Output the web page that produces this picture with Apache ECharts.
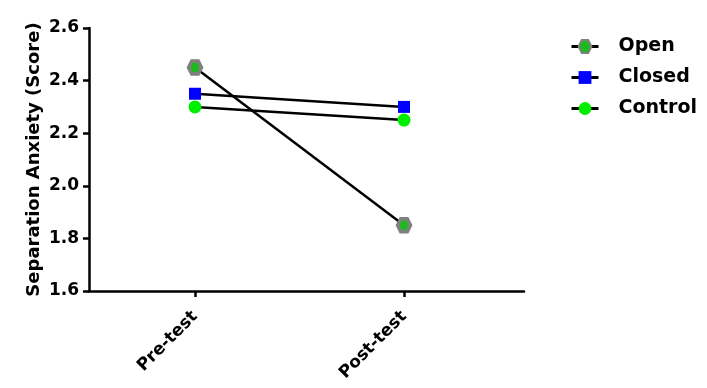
<!DOCTYPE html>
<html><head><meta charset="utf-8">
<script src="https://cdn.jsdelivr.net/npm/echarts@6/dist/echarts.min.js"></script>
<style>html,body{margin:0;padding:0;background:#fff}#c{width:707px;height:388px}</style>
</head><body><div id="c"></div>
<script>
const categories = ['Pre-test', 'Post-test'];
const openVals = [2.45, 1.85];
const closedVals = [2.35, 2.30];
const controlVals = [2.30, 2.25];
const yTicks = [1.6, 1.8, 2.0, 2.2, 2.4, 2.6];

const FONT = '"DejaVu Sans", sans-serif';
const hex = 'path://M0,5 L2.5,0.67 L7.5,0.67 L10,5 L7.5,9.33 L2.5,9.33 Z';
const toPts = vals => vals.map((v, i) => [i, v]);

const chart = echarts.init(document.getElementById('c'));
chart.setOption({
  animation: false,
  backgroundColor: '#fff',
  grid: { left: 89, right: 183, top: 28, bottom: 97, containLabel: false },
  legend: {
    orient: 'vertical', left: 565, top: 31, itemGap: 10, itemWidth: 27, itemHeight: 16,
    lineStyle: { width: 3, color: '#000' },
    textStyle: { fontFamily: FONT, fontWeight: 'bold', fontSize: 19, color: '#000', lineHeight: 21, padding: [0, 0, 0, 15] },
    data: ['Open', 'Closed', 'Control']
  },
  xAxis: {
    type: 'value', min: -0.507, max: 1.574,
    splitLine: { show: false },
    axisLine: { show: true, onZero: false, lineStyle: { color: '#000', width: 2.5 } },
    axisTick: { show: true, length: 6, lineStyle: { color: '#000', width: 2.5 }, customValues: [0, 1] },
    axisLabel: {
      customValues: [0, 1], rotate: 45, margin: 23,
      formatter: v => categories[Math.round(v)] || '',
      fontFamily: FONT, fontWeight: 'bold', fontSize: 17, color: '#000'
    }
  },
  yAxis: {
    type: 'value', min: yTicks[0], max: yTicks[yTicks.length - 1], interval: 0.2,
    name: 'Separation Anxiety (Score)', nameLocation: 'middle', nameGap: 46, nameMoveOverlap: false,
    nameTextStyle: { fontFamily: FONT, fontWeight: 'bold', fontSize: 18, color: '#000' },
    splitLine: { show: false },
    axisLine: { show: true, onZero: false, lineStyle: { color: '#000', width: 2.5 } },
    axisTick: { show: true, length: 6, lineStyle: { color: '#000', width: 2.5 } },
    axisLabel: { formatter: v => v.toFixed(1), margin: 10, fontFamily: FONT, fontWeight: 'bold', fontSize: 17, color: '#000' }
  },
  series: [
    { name: 'Open', type: 'line', data: toPts(openVals), symbol: hex, symbolSize: 13,
      lineStyle: { color: '#000', width: 2.5 },
      itemStyle: { color: '#1fb81f', borderColor: '#808080', borderWidth: 3.5 } },
    { name: 'Closed', type: 'line', data: toPts(closedVals), symbol: 'rect', symbolSize: 12,
      lineStyle: { color: '#000', width: 2.5 },
      itemStyle: { color: '#0000ff', borderWidth: 0 } },
    { name: 'Control', type: 'line', data: toPts(controlVals), symbol: 'circle', symbolSize: 13,
      lineStyle: { color: '#000', width: 2.5 },
      itemStyle: { color: '#00ee00', borderWidth: 0 } }
  ]
});
</script></body></html>
